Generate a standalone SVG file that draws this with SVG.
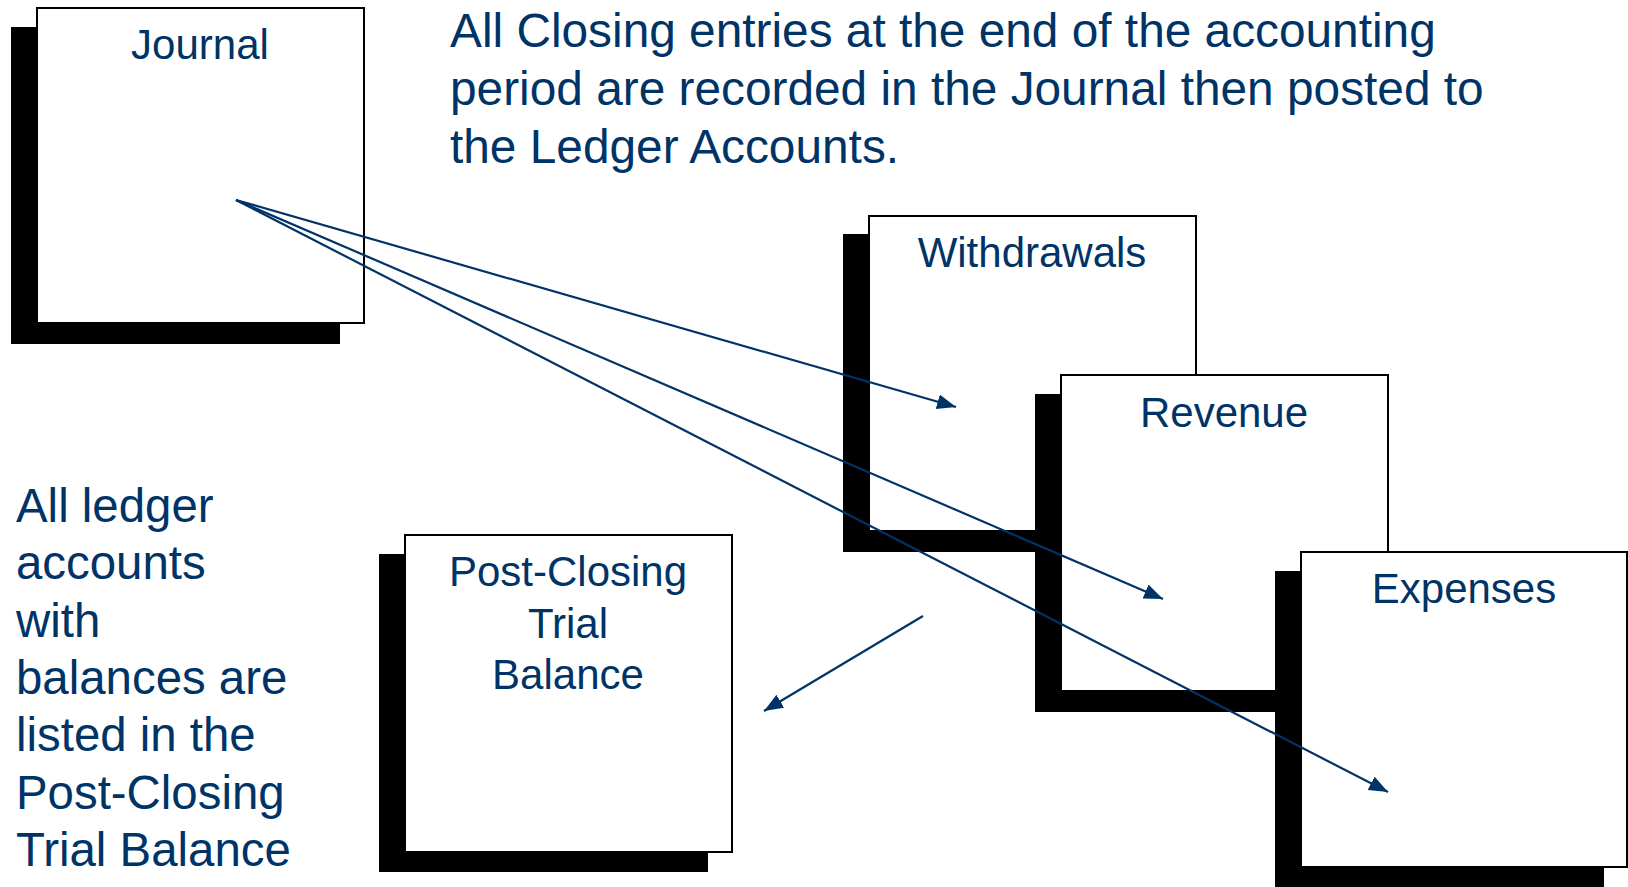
<svg xmlns="http://www.w3.org/2000/svg" width="1628" height="887" viewBox="0 0 1628 887">
  <style>
    .shadow { fill: #000000; }
    .box { fill: #ffffff; stroke: #000000; stroke-width: 2; }
    .label { font-family: "Liberation Sans", Arial, sans-serif; font-size: 42px; fill: #003366; text-anchor: middle; }
    .para { font-family: "Liberation Sans", Arial, sans-serif; font-size: 47.8px; fill: #003366; }
    .note { font-family: "Liberation Sans", Arial, sans-serif; font-size: 47.4px; fill: #003366; }
    .link { stroke: #003366; stroke-width: 2.2; fill: none; marker-end: url(#arrow); }
  </style>
  <defs>
    <marker id="arrow" markerUnits="userSpaceOnUse" markerWidth="22" markerHeight="18" refX="19" refY="7.5" orient="auto">
      <path d="M0,0 L19,7.5 L0,15 Z" fill="#003366"/>
    </marker>
  </defs>

  <rect width="1628" height="887" fill="#ffffff"/>

  <!-- explanatory paragraphs -->
  <text class="para" x="450" y="47">All Closing entries at the end of the accounting</text>
  <text class="para" x="450" y="105">period are recorded in the Journal then posted to</text>
  <text class="para" x="450" y="163">the Ledger Accounts.</text>

  <g id="note-left">
    <text class="note" x="16" y="522">All ledger</text>
    <text class="note" x="16" y="579">accounts</text>
    <text class="note" x="16" y="637">with</text>
    <text class="note" x="16" y="694">balances are</text>
    <text class="note" x="16" y="751">listed in the</text>
    <text class="note" x="16" y="809">Post-Closing</text>
    <text class="note" x="16" y="866">Trial Balance</text>
  </g>

  <!-- ledger pages with offset drop shadows -->
  <g id="journal">
    <rect class="shadow" x="11" y="27" width="329" height="317"/>
    <rect class="box" x="37" y="8" width="327" height="315"/>
    <text class="label" x="200" y="59">Journal</text>
  </g>

  <g id="post-closing">
    <rect class="shadow" x="379" y="554" width="329" height="318"/>
    <rect class="box" x="405" y="535" width="327" height="317"/>
    <text class="label" x="568" y="586">Post-Closing</text>
    <text class="label" x="568" y="638">Trial</text>
    <text class="label" x="568" y="689">Balance</text>
  </g>

  <g id="withdrawals">
    <rect class="shadow" x="843" y="234" width="329" height="318"/>
    <rect class="box" x="869" y="216" width="327" height="315"/>
    <text class="label" x="1032" y="267">Withdrawals</text>
  </g>

  <g id="revenue">
    <rect class="shadow" x="1035" y="394" width="329" height="318"/>
    <rect class="box" x="1061" y="375" width="327" height="316"/>
    <text class="label" x="1224" y="427">Revenue</text>
  </g>

  <g id="expenses">
    <rect class="shadow" x="1275" y="571" width="329" height="316"/>
    <rect class="box" x="1301" y="552" width="326" height="315"/>
    <text class="label" x="1464" y="603">Expenses</text>
  </g>

  <!-- postings and the listing arrow -->
  <g id="connectors">
    <line class="link" x1="236" y1="200" x2="956" y2="407"/>
    <line class="link" x1="236" y1="200" x2="1163" y2="599"/>
    <line class="link" x1="236" y1="200" x2="1388" y2="792"/>
    <line class="link" x1="923" y1="616" x2="764" y2="711"/>
  </g>
</svg>
